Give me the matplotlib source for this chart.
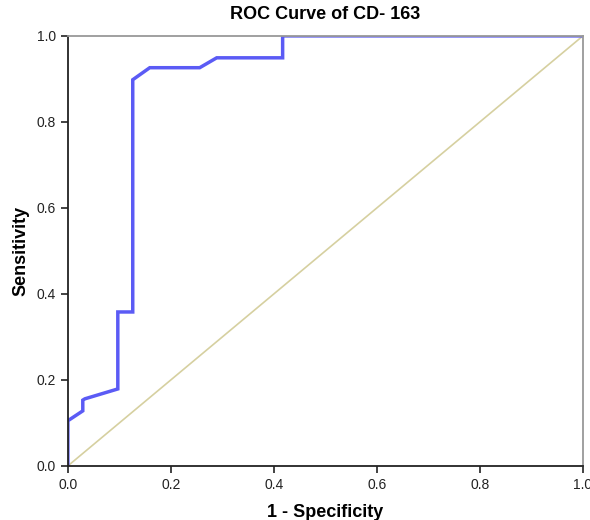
import matplotlib.pyplot as plt
import numpy as np

plt.rcParams['font.family'] = ['Liberation Sans', 'DejaVu Sans']

# ROC curve points
fpr = [0.0, 0.0, 0.029, 0.029, 0.033, 0.097, 0.097, 0.126, 0.126, 0.159, 0.256, 0.289, 0.417, 0.417, 1.0]
tpr = [0.0, 0.105, 0.128, 0.153, 0.156, 0.179, 0.358, 0.358, 0.898, 0.926, 0.926, 0.949, 0.949, 1.0, 1.0]
ref = [0.0, 1.0]
ticks = [0.0, 0.2, 0.4, 0.6, 0.8, 1.0]

fig = plt.figure(figsize=(5.9, 5.2), dpi=100)
ax = fig.add_axes([0.115, 0.104, 0.873, 0.827])

ax.plot(ref, ref, color='#d6d0a0', lw=1.2)
ax.plot(fpr, tpr, color='#5b5bf5', lw=2.5, solid_joinstyle='miter')

ax.set_xlim(0, 1)
ax.set_ylim(0, 1)
ax.set_xticks(ticks)
ax.set_yticks(ticks)
ax.set_xticklabels([f'{t:.1f}' for t in ticks])
ax.set_yticklabels([f'{t:.1f}' for t in ticks])
ax.tick_params(direction='out', length=5, width=1.2, labelsize=10, colors='#222222')

for s in ['left', 'bottom']:
    ax.spines[s].set_color('#222222')
    ax.spines[s].set_linewidth(1.3)
for s in ['top', 'right']:
    ax.spines[s].set_color('#999999')
    ax.spines[s].set_linewidth(1.3)

ax.set_title('ROC Curve of CD- 163', fontsize=13, fontweight='bold', pad=12)
ax.set_xlabel('1 - Specificity', fontsize=13, fontweight='bold', labelpad=9)
ax.set_ylabel('Sensitivity', fontsize=13, fontweight='bold', labelpad=5)

fig.savefig('out.png', dpi=100)
